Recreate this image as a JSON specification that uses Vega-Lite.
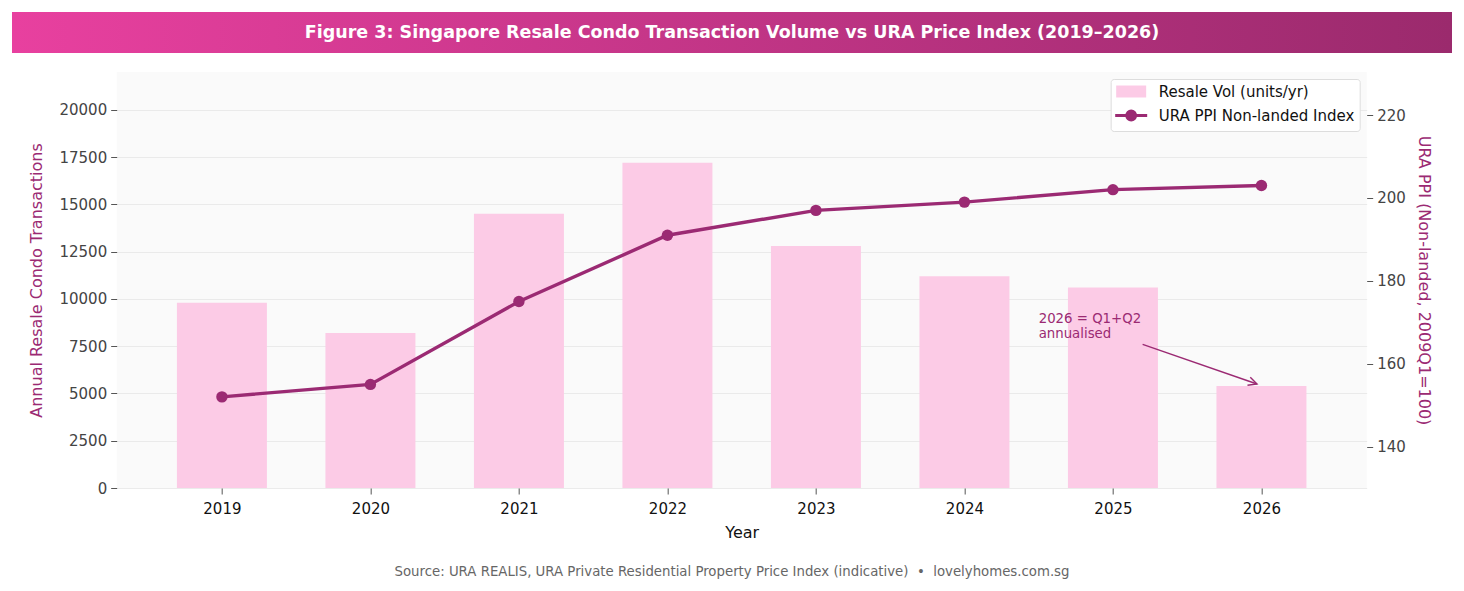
{
  "$schema": "https://vega.github.io/schema/vega-lite/v6.json",
  "background": "white",
  "padding": {"left": 12, "top": 12, "right": 12, "bottom": 6},
  "config": {
    "font": "DejaVu Sans",
    "view": {"stroke": null},
    "axis": {
      "domain": false,
      "tickColor": "#555555",
      "tickSize": 6,
      "labelFontSize": 15,
      "labelColor": "#444444",
      "labelPadding": 4,
      "titleFontSize": 16,
      "titleFontWeight": "normal",
      "gridColor": "#e6e6e6",
      "gridWidth": 0.8
    }
  },
  "spacing": 19,
  "center": true,
  "resolve": {"scale": {"color": "independent"}, "legend": {"color": "independent"}},
  "vconcat": [
    {
      "width": 1440,
      "height": 41,
      "title": {"text": ".", "orient": "right", "offset": 74, "fontSize": 10, "color": "rgba(255,255,255,0)"},
      "data": {"values": [{"heading": "Figure 3: Singapore Resale Condo Transaction Volume vs URA Price Index (2019–2026)"}]},
      "layer": [
        {
          "mark": {
            "type": "rect",
            "color": {
              "gradient": "linear",
              "x1": 0, "x2": 1, "y1": 0, "y2": 0,
              "stops": [
                {"offset": 0, "color": "#e8409f"},
                {"offset": 1, "color": "#9b2a6d"}
              ]
            }
          },
          "encoding": {}
        },
        {
          "mark": {"type": "text", "color": "white", "fontSize": 17.5, "fontWeight": "bold"},
          "encoding": {"text": {"field": "heading"}}
        }
      ]
    },
    {
      "width": 1250,
      "height": 416,
      "view": {"fill": "#fafafa"},
      "data": {
        "values": [
          {"year": 2019, "volume": 9800, "ppi": 152},
          {"year": 2020, "volume": 8200, "ppi": 155},
          {"year": 2021, "volume": 14500, "ppi": 175},
          {"year": 2022, "volume": 17200, "ppi": 191},
          {"year": 2023, "volume": 12800, "ppi": 197},
          {"year": 2024, "volume": 11200, "ppi": 199},
          {"year": 2025, "volume": 10600, "ppi": 202},
          {"year": 2026, "volume": 5400, "ppi": 203}
        ]
      },
      "layer": [
        {
          "layer": [
            {
              "mark": {"type": "bar", "orient": "vertical", "size": 90},
              "encoding": {
                "x": {
                  "field": "year", "type": "quantitative", "title": "Year",
                  "scale": {"domain": [2018.325, 2026.675], "nice": false, "zero": false},
                  "axis": {
                    "values": [2019, 2020, 2021, 2022, 2023, 2024, 2025, 2026],
                    "format": "d", "grid": false,
                    "labelColor": "#111111", "titleColor": "#111111",
                    "labelPadding": 7,
                    "titlePadding": 8
                  }
                },
                "y": {
                  "field": "volume", "type": "quantitative",
                  "title": "Annual Resale Condo Transactions",
                  "scale": {"domain": [0, 22000], "nice": false},
                  "axis": {
                    "values": [0, 2500, 5000, 7500, 10000, 12500, 15000, 17500, 20000],
                    "format": "d", "grid": true,
                    "titleColor": "#9b2a73", "titlePadding": 14
                  }
                },
                "color": {
                  "datum": "Resale Vol (units/yr)",
                  "scale": {
                    "domain": ["Resale Vol (units/yr)", "URA PPI Non-landed Index"],
                    "range": ["#fccbe6", "#9b2a73"]
                  },
                  "legend": {
                    "orient": "top-right",
                    "offset": 7,
                    "title": null,
                    "padding": 5,
                    "fillColor": "white",
                    "strokeColor": "#dddddd",
                    "cornerRadius": 3,
                    "labelFontSize": 15,
                    "labelColor": "#111111",
                    "labelLimit": 400,
                    "symbolSize": 256,
                    "symbolOffset": 8,
                    "labelOffset": 20,
                    "rowPadding": 5,
                    "symbolOpacity": 1,
                    "encode": {
                      "symbols": {
                        "update": {
                          "shape": {"signal": "datum.value === 'Resale Vol (units/yr)' ? 'M-1.875,-0.75H1.875V0.75H-1.875Z' : 'M-2,0H2M0.55,0A0.55,0.55 0 1,1 -0.55,0A0.55,0.55 0 1,1 0.55,0'"},
                          "fill": {"signal": "datum.value === 'Resale Vol (units/yr)' ? '#fccbe6' : '#9b2a73'"},
                          "stroke": {"value": "#9b2a73"},
                          "strokeWidth": {"signal": "datum.value === 'Resale Vol (units/yr)' ? 0 : 3"}
                        }
                      }
                    }
                  }
                }
              }
            },
            {
              "data": {"values": [{"note": "2026 = Q1+Q2\nannualised", "note_year": 2024.5, "note_vol": 9300}]},
              "mark": {"type": "text", "align": "left", "baseline": "top", "fontSize": 13.3, "lineHeight": 15, "lineBreak": "\n", "color": "#9b2a73"},
              "encoding": {
                "x": {"field": "note_year", "type": "quantitative", "title": "Year"},
                "y": {"field": "note_vol", "type": "quantitative", "title": "Annual Resale Condo Transactions"},
                "text": {"field": "note"}
              }
            },
            {
              "data": {"values": [{"from_year": 2025.2, "from_vol": 7600, "to_year": 2025.97, "to_vol": 5500}]},
              "mark": {"type": "rule", "color": "#9b2a73", "strokeWidth": 1.4},
              "encoding": {
                "x": {"field": "from_year", "type": "quantitative", "title": "Year"},
                "y": {"field": "from_vol", "type": "quantitative", "title": "Annual Resale Condo Transactions"},
                "x2": {"field": "to_year"},
                "y2": {"field": "to_vol"}
              }
            },
            {
              "data": {"values": [{"to_year": 2025.97, "to_vol": 5500}]},
              "mark": {
                "type": "point",
                "shape": "M-1.4,-0.7L0,0L-1.4,0.7",
                "filled": false,
                "size": 150,
                "angle": 19,
                "strokeWidth": 1.4,
                "color": "#9b2a73",
                "opacity": 1
              },
              "encoding": {
                "x": {"field": "to_year", "type": "quantitative", "title": "Year"},
                "y": {"field": "to_vol", "type": "quantitative", "title": "Annual Resale Condo Transactions"}
              }
            }
          ]
        },
        {
          "encoding": {
            "x": {"field": "year", "type": "quantitative", "title": "Year"},
            "y": {
              "field": "ppi", "type": "quantitative",
              "title": "URA PPI (Non-landed, 2009Q1=100)",
              "scale": {"domain": [130, 230.4], "nice": false, "zero": false},
              "axis": {
                "orient": "right",
                "values": [140, 160, 180, 200, 220],
                "grid": false,
                "titleColor": "#9b2a73",
                "titlePadding": 10
              }
            },
            "color": {"datum": "URA PPI Non-landed Index"}
          },
          "layer": [
            {"mark": {"type": "line", "strokeWidth": 3.4}},
            {"mark": {"type": "point", "filled": true, "size": 130, "opacity": 1}}
          ]
        }
      ],
      "resolve": {"scale": {"y": "independent"}}
    },
    {
      "width": 1440,
      "height": 26,
      "title": {"text": ".", "orient": "right", "offset": 74, "fontSize": 10, "color": "rgba(255,255,255,0)"},
      "data": {"values": [{"source": "Source: URA REALIS, URA Private Residential Property Price Index (indicative)\u00a0 •\u00a0 lovelyhomes.com.sg"}]},
      "mark": {"type": "text", "fontSize": 13.3, "color": "#666666"},
      "encoding": {"text": {"field": "source"}}
    }
  ]
}
